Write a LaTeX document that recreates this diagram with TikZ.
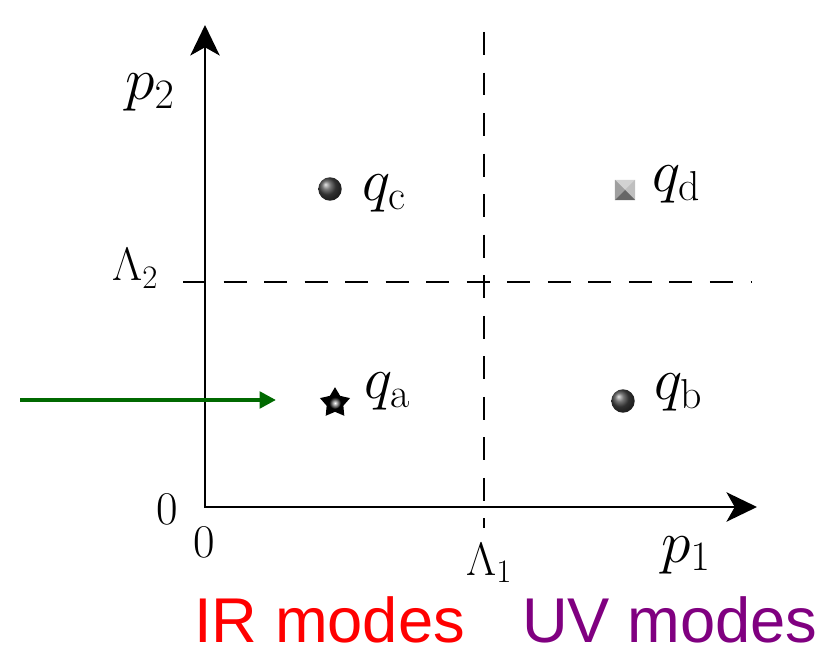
\documentclass[tikz,border=0pt]{standalone}
\usepackage{fix-cm}
\usepackage{fontspec}
\newfontfamily\arialf{Liberation Sans}
\usetikzlibrary{arrows.meta,shapes.geometric}
\definecolor{arrgreen}{RGB}{0,105,0}
\definecolor{uvpurple}{RGB}{128,0,128}
\begin{document}
\begin{tikzpicture}[x=0.03cm,y=-0.03cm,
  lblbig/.style={inner sep=0pt,font=\fontsize{51}{60}\selectfont},
  lblsmall/.style={inner sep=0pt,font=\fontsize{40}{46}\selectfont},
  modes/.style={inner sep=0pt,font=\arialf\fontsize{54}{60}\selectfont},
  axisline/.style={line width=2.4pt,line join=miter,
     {Stealth[length=26pt,width=25pt,inset=7pt]}-{Stealth[length=26pt,width=25pt,inset=7pt]}},
  guide/.style={line width=1.6pt,dash pattern=on 19.6pt off 15pt},
  ballpt/.style={circle,inner sep=0pt,minimum size=20pt,shading=ball,ball color=gray!55!black},
]
\useasboundingbox (0,0) rectangle (831,655);
% axes
\coordinate (O) at (205,507);
\coordinate (Ytip) at (205,25);
\coordinate (Xtip) at (757,507);
% guides
\coordinate (V1) at (484,32);
\coordinate (V2) at (484,528);
\coordinate (H1) at (183,282);
\coordinate (H2) at (752,282);
\draw[guide] (V1) -- (V2);
\draw[guide] (H1) -- (H2);
\draw[axisline] (Ytip) -- (O) -- (Xtip);
% points
\node[ballpt] (qc) at (330,189) {};
\node[ballpt] (qb) at (623,401) {};
\node[star,star points=5,star point ratio=1.8,minimum size=27pt,inner sep=0pt,
      fill=black] (qa) at (335,403) {};
\shade[inner color=white,outer color=black] (qa.center) circle (5pt);
\node[rectangle,minimum size=17pt,inner sep=0pt,fill=gray!60] (qd) at (625,190) {};
\fill[gray!35] (qd.north west) -- (qd.north east) -- (qd.center) -- cycle;
\fill[gray!75] (qd.north west) -- (qd.south west) -- (qd.center) -- cycle;
\fill[gray!50] (qd.north east) -- (qd.south east) -- (qd.center) -- cycle;
\fill[black!60] (qd.south west) -- (qd.south east) -- (qd.center) -- cycle;
% labels
\node[lblbig,anchor=base west] (lqc) at (362,201) {$q_{\mathrm{c}}$};
\node[lblbig,anchor=base west] (lqd) at (652,192) {$q_{\mathrm{d}}$};
\node[lblbig,anchor=base west] (lqa) at (364,399) {$q_{\mathrm{a}}$};
\node[lblbig,anchor=base west] (lqb) at (654,400) {$q_{\mathrm{b}}$};
\node[lblbig,anchor=base west] (lp2) at (125,100) {$p_2$};
\node[lblbig,anchor=base west] (lp1) at (661,562) {$p_1$};
\node[lblsmall,anchor=base west] (lL2) at (112,281) {$\Lambda_2$};
\node[lblsmall,anchor=base west] (lL1) at (466,575) {$\Lambda_1$};
\node[lblsmall,anchor=base] (z1) at (167,525) {0};
\node[lblsmall,anchor=base] (z2) at (204,558) {0};
% green arrow
\coordinate (G0) at (20,400);
\coordinate (G1) at (276,400);
\draw[arrgreen,line width=3.4pt,-{Triangle[length=14pt,width=14pt]}] (G0) -- (G1);
% modes
\node[modes,anchor=base west,text=red] (ir) at (194,642) {IR modes};
\node[modes,anchor=base west,text=uvpurple] (uv) at (522,642) {UV modes};
\end{tikzpicture}
\end{document}
